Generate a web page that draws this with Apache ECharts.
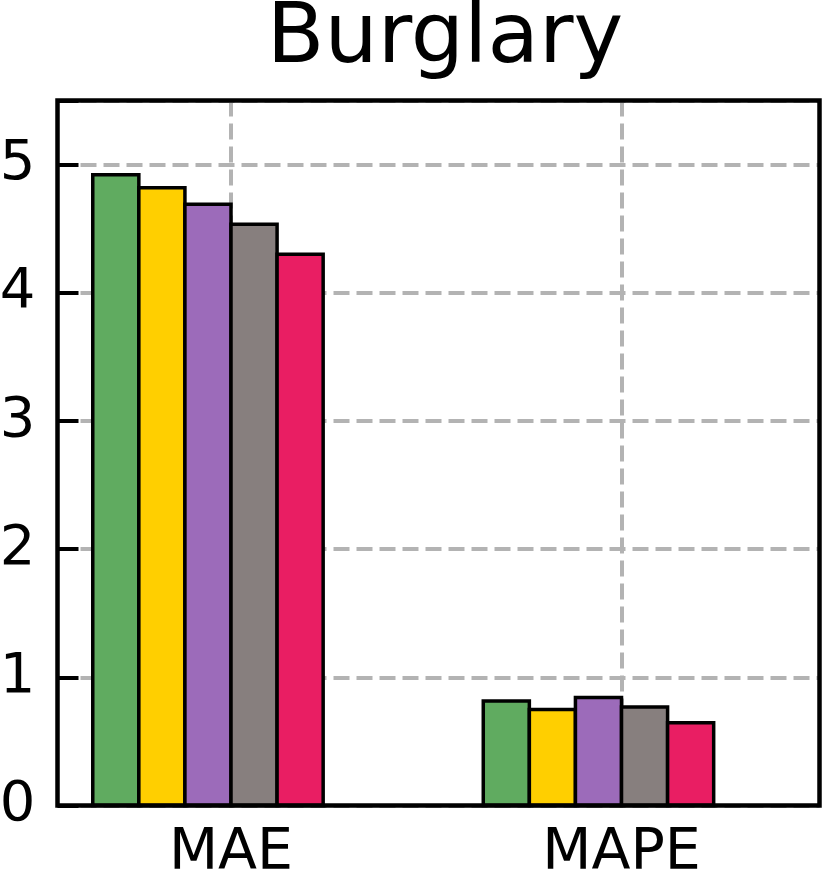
<!DOCTYPE html>
<html>
<head>
<meta charset="utf-8">
<script src="https://cdn.jsdelivr.net/npm/echarts@6/dist/echarts.min.js"></script>
<style>
html,body{margin:0;padding:0;background:#fff;}
#chart{width:829px;height:876px;}
</style>
</head>
<body>
<div id="chart"></div>
<script>
const title = 'Burglary';
const categories = ['MAE', 'MAPE'];
const yTicks = [0, 1, 2, 3, 4, 5];
const xTicks = [0, 1];
const greenValues = [4.92, 0.816];
const yellowValues = [4.82, 0.748];
const purpleValues = [4.69, 0.842];
const grayValues = [4.535, 0.769];
const pinkValues = [4.30, 0.645];

const seriesList = [
  { name: 'green', color: '#60AB60', values: greenValues },
  { name: 'yellow', color: '#FFCF00', values: yellowValues },
  { name: 'purple', color: '#9C6BBA', values: purpleValues },
  { name: 'gray', color: '#877F7E', values: grayValues },
  { name: 'pink', color: '#E91E63', values: pinkValues }
];

const barW = 0.118;
const FONT = 'DejaVu Sans';

const chart = echarts.init(document.getElementById('chart'), null, { renderer: 'canvas' });

const series = seriesList.map((s, k) => ({
  type: 'custom',
  name: s.name,
  z: 3,
  data: categories.map((c, j) => [j, s.values[j]]),
  renderItem: function (params, api) {
    const cat = api.value(0);
    const v = api.value(1);
    const tl = api.coord([cat + (k - 3) * barW, v]);
    const br = api.coord([cat + (k - 2) * barW, 0]);
    return {
      type: 'rect',
      shape: { x: tl[0], y: tl[1], width: br[0] - tl[0], height: br[1] - tl[1] },
      style: { fill: s.color, stroke: '#000', lineWidth: 3.5 }
    };
  }
}));

const gridStyle = { color: '#b3b3b3', width: 4, type: [16, 7] };

chart.setOption({
  animation: false,
  backgroundColor: '#fff',
  title: {
    text: title,
    left: 440,
    textAlign: 'center',
    top: -7,
    textStyle: { fontFamily: FONT, fontSize: 84, fontWeight: 'normal', color: '#000' }
  },
  grid: {
    left: 57.5, right: 9.5, top: 100.5, bottom: 70.5,
    show: true, borderColor: '#000', borderWidth: 4.5, z: 10,
    containLabel: false,
    outerBoundsMode: 'none'
  },
  xAxis: {
    type: 'value',
    min: -0.4443,
    max: 1.507,
    axisLine: { show: false, onZero: false },
    axisTick: { show: false, customValues: xTicks },
    axisLabel: {
      customValues: xTicks,
      formatter: v => categories[Math.round(v)],
      fontFamily: FONT, fontSize: 57, color: '#000', margin: 20
    },
    splitLine: { show: true, lineStyle: gridStyle }
  },
  yAxis: {
    type: 'value',
    min: 0,
    max: 5.5,
    interval: 1,
    axisLine: { show: false, onZero: false },
    axisTick: { show: true, inside: true, length: 21, lineStyle: { color: '#000', width: 4 } },
    axisLabel: {
      customValues: yTicks,
      fontFamily: FONT, fontSize: 56, color: '#000', margin: 22
    },
    splitLine: { show: true, lineStyle: gridStyle }
  },
  series: series
});
</script>
</body>
</html>
